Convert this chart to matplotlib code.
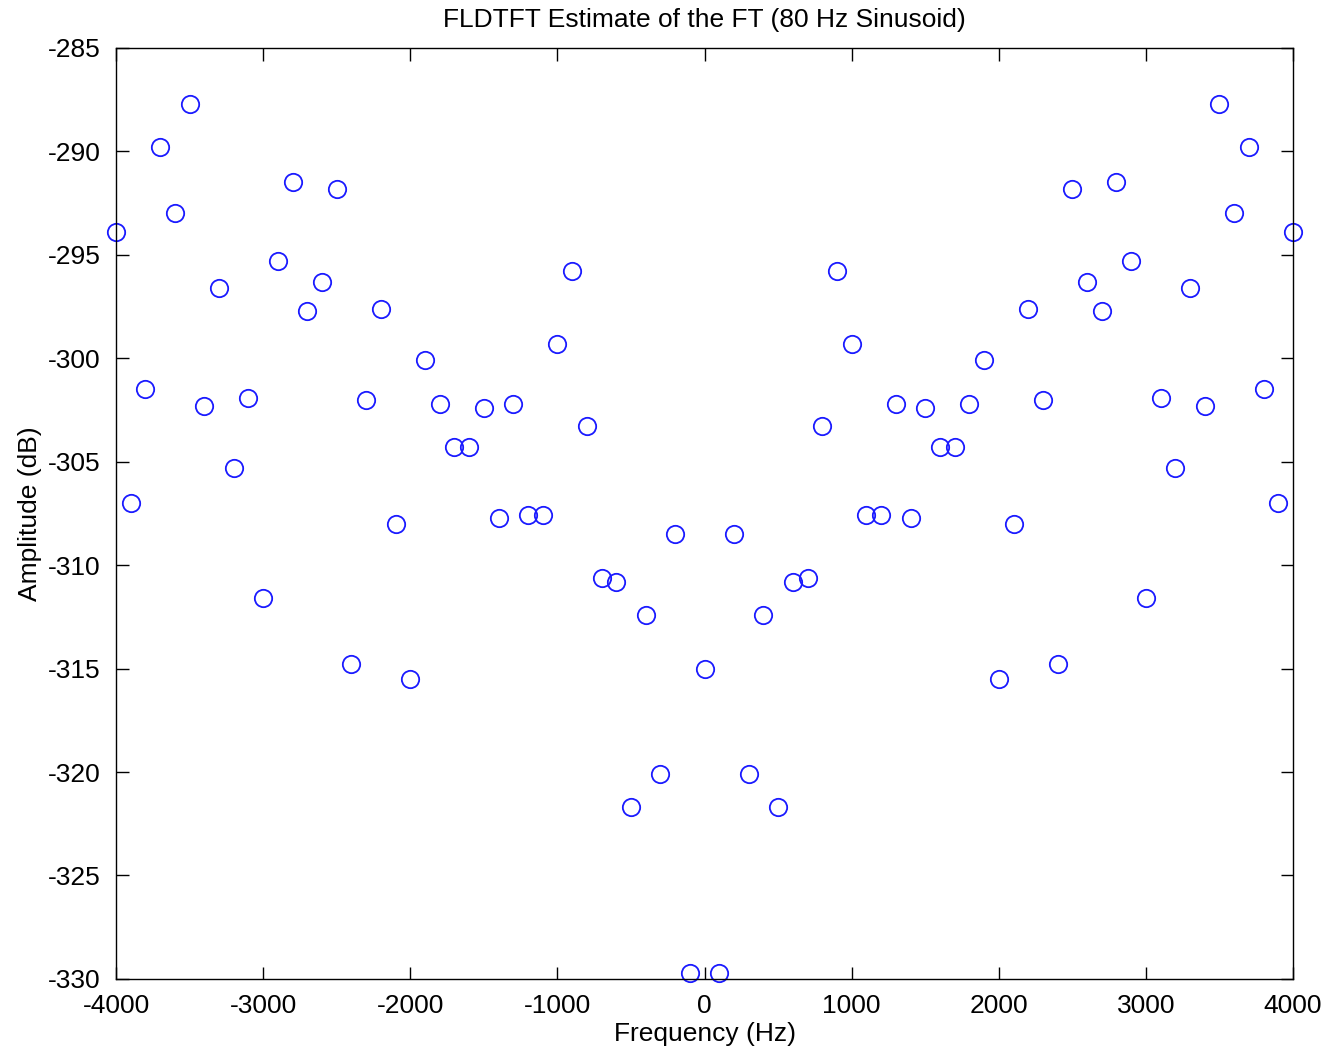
import numpy as np
import matplotlib.pyplot as plt

plt.rcParams['font.family'] = ['Liberation Sans', 'DejaVu Sans']
plt.rcParams['axes.unicode_minus'] = False

# Frequency bins (Hz)
freq = [-4000, -3900, -3800, -3700, -3600, -3500, -3400, -3300, -3200, -3100,
        -3000, -2900, -2800, -2700, -2600, -2500, -2400, -2300, -2200, -2100,
        -2000, -1900, -1800, -1700, -1600, -1500, -1400, -1300, -1200, -1100,
        -1000, -900, -800, -700, -600, -500, -400, -300, -200, -100,
        0,
        100, 200, 300, 400, 500, 600, 700, 800, 900, 1000,
        1100, 1200, 1300, 1400, 1500, 1600, 1700, 1800, 1900, 2000,
        2100, 2200, 2300, 2400, 2500, 2600, 2700, 2800, 2900, 3000,
        3100, 3200, 3300, 3400, 3500, 3600, 3700, 3800, 3900, 4000]

# Amplitude (dB)
amp = [-293.9, -307.0, -301.5, -289.8, -293.0, -287.7, -302.3, -296.6, -305.3, -301.9,
       -311.6, -295.3, -291.5, -297.7, -296.3, -291.8, -314.8, -302.0, -297.6, -308.0,
       -315.5, -300.1, -302.2, -304.3, -304.3, -302.4, -307.7, -302.2, -307.6, -307.6,
       -299.3, -295.8, -303.3, -310.6, -310.8, -321.7, -312.4, -320.1, -308.5, -329.7,
       -315.0,
       -329.7, -308.5, -320.1, -312.4, -321.7, -310.8, -310.6, -303.3, -295.8, -299.3,
       -307.6, -307.6, -302.2, -307.7, -302.4, -304.3, -304.3, -302.2, -300.1, -315.5,
       -308.0, -297.6, -302.0, -314.8, -291.8, -296.3, -297.7, -291.5, -295.3, -311.6,
       -301.9, -305.3, -296.6, -302.3, -287.7, -293.0, -289.8, -301.5, -307.0, -293.9]

fig = plt.figure(figsize=(13.34, 10.47), dpi=100)
ax = fig.add_axes([0.087, 0.065, 0.8823, 0.8893])

ax.plot(freq, amp, 'o', markerfacecolor='none', markeredgecolor='#1a1aff',
        markersize=12.5, markeredgewidth=1.3, clip_on=False)

ax.set_xlim(-4000, 4000)
ax.set_ylim(-330, -285)
ax.set_xticks(np.arange(-4000, 4001, 1000))
ax.set_yticks(np.arange(-330, -284, 5))
ax.tick_params(direction='in', length=9, width=1, labelsize=19,
               top=True, right=True, pad=11)
for s in ax.spines.values():
    s.set_linewidth(1.0)

ax.set_title('FLDTFT Estimate of the FT (80 Hz Sinusoid)', fontsize=19, pad=15)
ax.set_xlabel('Frequency (Hz)', fontsize=19, labelpad=3)
ax.set_ylabel('Amplitude (dB)', fontsize=19, labelpad=4)

fig.savefig('out.png', dpi=100)
